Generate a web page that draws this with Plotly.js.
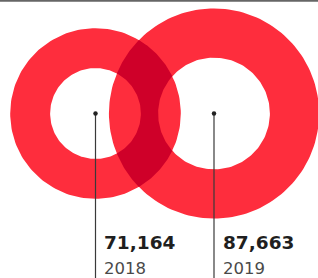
<!DOCTYPE html>
<html>
<head>
<meta charset="utf-8">
<script src="https://cdn.plot.ly/plotly-3.0.1.min.js"></script>
<style>
html,body{margin:0;padding:0;background:#fff;}
#chart{width:318px;height:278px;}
</style>
</head>
<body>
<div id="chart"></div>
<script>
// ---- data ----
const years = ["2018", "2019"];
const values = [71164, 87663];

// ---- layout constants ----
const W = 318, H = 278;
const centersX = [95.5, 214];
const centerY = 113.5;
const scale = 85.3 / 71164;     // px of outer radius per unit
const holeRatio = 0.532;
const ringColor = "#fe2d3d";
const overlapColor = "#cf0029";

const ro = values.map(v => v * scale);
const ri = ro.map(r => r * holeRatio);

function circlePts(cx, cy, r, a0, a1, n) {
  const xs = [], ys = [];
  for (let i = 0; i <= n; i++) {
    const a = a0 + (a1 - a0) * i / n;
    xs.push(cx + r * Math.cos(a));
    ys.push(cy + r * Math.sin(a));
  }
  return [xs, ys];
}

function ringTrace(cx, cy, rOut, rIn, color) {
  const o = circlePts(cx, cy, rOut, 0, 2 * Math.PI, 180);
  const i = circlePts(cx, cy, rIn, 2 * Math.PI, 0, 180);
  return {
    x: o[0].concat(i[0]), y: o[1].concat(i[1]),
    mode: "lines", fill: "toself", fillcolor: color,
    line: {width: 0, color: color}, hoverinfo: "skip", showlegend: false
  };
}

// intersection of two circles on the same horizontal line
function inter(cx1, r1, cx2, r2, cy, top) {
  const d = cx2 - cx1;
  const a = (d * d + r1 * r1 - r2 * r2) / (2 * d);
  const h = Math.sqrt(Math.max(0, r1 * r1 - a * a));
  return [cx1 + a, top ? cy - h : cy + h];
}
function ang(cx, cy, p) { return Math.atan2(p[1] - cy, p[0] - cx); }
function norm(d) { while (d > Math.PI) d -= 2 * Math.PI; while (d <= -Math.PI) d += 2 * Math.PI; return d; }
function arc(cx, cy, r, p0, p1, n) {
  const a0 = ang(cx, cy, p0);
  const a1 = a0 + norm(ang(cx, cy, p1) - a0);
  return circlePts(cx, cy, r, a0, a1, n);
}
function arcVia(cx, cy, r, p0, p1, viaAngle, n) {
  let a0 = ang(cx, cy, p0), a1 = ang(cx, cy, p1);
  // go through viaAngle
  let d = a1 - a0;
  const dv = norm(viaAngle - a0);
  if (dv >= 0) { while (d < 0) d += 2 * Math.PI; } else { while (d > 0) d -= 2 * Math.PI; }
  return circlePts(cx, cy, r, a0, a0 + d, n);
}

const [xL, xR] = centersX, cy = centerY;
const Ptop = inter(xL, ro[0], xR, ro[1], cy, true);
const Pbot = inter(xL, ro[0], xR, ro[1], cy, false);
const Atop = inter(xL, ri[0], xR, ro[1], cy, true);
const Abot = inter(xL, ri[0], xR, ro[1], cy, false);
const Btop = inter(xL, ro[0], xR, ri[1], cy, true);
const Bbot = inter(xL, ro[0], xR, ri[1], cy, false);

const segs = [
  arc(xR, cy, ro[1], Ptop, Atop, 30),
  arcVia(xL, cy, ri[0], Atop, Abot, 0, 60),
  arc(xR, cy, ro[1], Abot, Pbot, 30),
  arc(xL, cy, ro[0], Pbot, Bbot, 30),
  arcVia(xR, cy, ri[1], Bbot, Btop, Math.PI, 60),
  arc(xL, cy, ro[0], Btop, Ptop, 30)
];
const ox = [], oy = [];
segs.forEach(s => { ox.push(...s[0]); oy.push(...s[1]); });

const traces = [
  ringTrace(xL, cy, ro[0], ri[0], ringColor),
  ringTrace(xR, cy, ro[1], ri[1], ringColor),
  {x: ox, y: oy, mode: "lines", fill: "toself", fillcolor: overlapColor,
   line: {width: 0, color: overlapColor}, hoverinfo: "skip", showlegend: false}
];

centersX.forEach((cx, i) => {
  traces.push({
    x: [cx, cx], y: [cy, H + 5], mode: "lines",
    line: {color: "#3a3a3a", width: 1.2}, hoverinfo: "skip", showlegend: false
  });
  traces.push({
    x: [cx], y: [cy], mode: "markers",
    marker: {color: "#222", size: 4.5}, hoverinfo: "skip", showlegend: false
  });
});

const annotations = [];
centersX.forEach((cx, i) => {
  annotations.push({
    x: cx + 6.5, y: 242, xref: "x", yref: "y", xanchor: "left", yanchor: "middle",
    text: "<b>" + values[i].toLocaleString("en-US") + "</b>", showarrow: false,
    font: {family: "DejaVu Sans", size: 18.5, color: "#1f1f1f"}
  });
  annotations.push({
    x: cx + 6.5, y: 268.5, xref: "x", yref: "y", xanchor: "left", yanchor: "middle",
    text: years[i], showarrow: false,
    font: {family: "DejaVu Sans", size: 16.5, color: "#4a4a4a"}
  });
});

const layout = {
  width: W, height: H,
  margin: {l: 0, r: 0, t: 0, b: 0, pad: 0},
  paper_bgcolor: "#fff", plot_bgcolor: "#fff",
  xaxis: {range: [0, W], visible: false, fixedrange: true},
  yaxis: {range: [H, 0], visible: false, fixedrange: true},
  showlegend: false,
  annotations: annotations,
  shapes: [{type: "line", xref: "paper", yref: "paper", x0: 0, x1: 1, y0: 0.997, y1: 0.997,
            line: {color: "#666", width: 1.6}}]
};

Plotly.newPlot("chart", traces, layout, {staticPlot: true, displayModeBar: false});
</script>
</body>
</html>
